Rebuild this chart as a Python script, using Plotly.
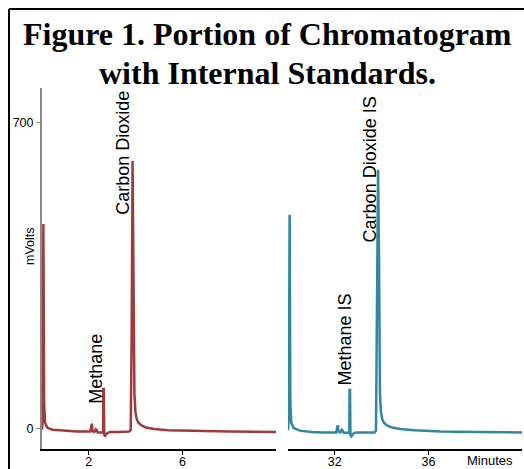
import plotly.graph_objects as go

# ---- data ----
left_t = [0.00, 0.03, 0.06, 0.09, 0.13, 0.22, 0.45, 1.00, 1.50, 2.06, 2.10, 2.13, 2.16, 2.24, 2.30, 2.34, 2.38, 2.50, 2.61, 2.62, 2.64, 2.66, 2.70, 2.78, 2.90, 3.30, 3.72, 3.79, 3.83, 3.87, 3.91, 3.95, 3.99, 4.04, 4.12, 4.25, 4.45, 4.80, 5.40, 6.50, 8.00, 10.00]
left_mv = [-2, 20, 469, 60, 14, 3, -2, -5, -6, -6, 5, 12, -5, -7, -1, -3, -8, -8, -8, 91, 91, -14, -16, -10, -7, -7, -6, -3, 200, 613, 400, 80, 40, 24, 14, 8, 3, 0, -3, -5, -6, -7]

right_t = [30.00, 30.03, 30.07, 30.10, 30.14, 30.24, 30.50, 31.00, 31.50, 32.06, 32.10, 32.13, 32.16, 32.24, 32.30, 32.34, 32.38, 32.50, 32.62, 32.63, 32.65, 32.67, 32.71, 32.79, 32.90, 33.30, 33.70, 33.76, 33.80, 33.85, 33.89, 33.93, 33.97, 34.02, 34.10, 34.23, 34.45, 34.80, 35.40, 36.50, 38.00, 40.00]
right_mv = [-3, 20, 490, 60, 14, 2, -4, -7, -8, -8, 3, 8, -6, -8, -2, -4, -9, -9, -9, 89, 89, -15, -17, -11, -8, -8, -8, -4, 200, 593, 390, 80, 40, 24, 14, 8, 3, 0, -3, -6, -7, -8]

labels_left = ["Methane", "Carbon Dioxide"]
labels_left_t = [2.30, 3.45]
labels_left_mv = [137, 631]
labels_right = ["Methane IS", "Carbon Dioxide IS"]
labels_right_t = [32.43, 33.49]
labels_right_mv = [204, 593]

left_ticks = [2, 6]
right_ticks = [32, 36]
y_ticks = [0, 700]

RED = "#9f3b3b"
TEAL = "#2f88a0"
SANS = "Liberation Sans, Arial, sans-serif"
SERIF = "Liberation Serif, Times New Roman, serif"

W, H = 524, 469
L, R, T, B = 42, 2, 88, 20
pw, ph = W - L - R, H - T - B


def px(xp):
    return (xp - L) / pw


def py(yp):
    return (H - B - yp) / ph


fig = go.Figure()
fig.add_trace(go.Scatter(x=left_t, y=left_mv, mode="lines",
                         line=dict(color=RED, width=2.5), xaxis="x", yaxis="y",
                         showlegend=False, hoverinfo="skip"))
fig.add_trace(go.Scatter(x=right_t, y=right_mv, mode="lines",
                         line=dict(color=TEAL, width=2.5), xaxis="x2", yaxis="y2",
                         showlegend=False, hoverinfo="skip"))

annotations = []
for txt, t, v in zip(labels_left, labels_left_t, labels_left_mv):
    annotations.append(dict(text=txt, x=t, y=v, xref="x", yref="y", showarrow=False,
                            textangle=-90, xanchor="center", yanchor="middle",
                            font=dict(family=SANS, size=18, color="black")))
for txt, t, v in zip(labels_right, labels_right_t, labels_right_mv):
    annotations.append(dict(text=txt, x=t, y=v, xref="x2", yref="y2", showarrow=False,
                            textangle=-90, xanchor="center", yanchor="middle",
                            font=dict(family=SANS, size=18, color="black")))

# title
annotations.append(dict(text="<b>Figure 1. Portion of Chromatogram</b>", x=px(267), y=py(34),
                        xref="paper", yref="paper", showarrow=False,
                        xanchor="center", yanchor="middle",
                        font=dict(family=SERIF, size=32, color="black")))
annotations.append(dict(text="<b>with Internal Standards.</b>", x=px(267), y=py(73),
                        xref="paper", yref="paper", showarrow=False,
                        xanchor="center", yanchor="middle",
                        font=dict(family=SERIF, size=32, color="black")))
annotations.append(dict(text="mVolts", x=px(30), y=py(246), xref="paper", yref="paper",
                        showarrow=False, textangle=-90, xanchor="center", yanchor="middle",
                        font=dict(family=SANS, size=12.5, color="black")))
annotations.append(dict(text="Minutes", x=px(490), y=py(461), xref="paper", yref="paper",
                        showarrow=False, xanchor="center", yanchor="middle",
                        font=dict(family=SANS, size=13, color="black")))

shapes = [
    dict(type="line", xref="paper", yref="paper", x0=px(9), x1=px(9), y0=py(9), y1=py(H + 5),
         line=dict(color="black", width=2)),
    dict(type="line", xref="paper", yref="paper", x0=px(9), x1=px(W + 5), y0=py(9), y1=py(9),
         line=dict(color="black", width=2)),
]

yrange = [-46, 780]
xcommon = dict(showgrid=False, zeroline=False, showline=True, linecolor="black", linewidth=1.5,
               ticks="outside", ticklen=4, tickcolor="black", automargin=False,
               ticklabelstandoff=-4,
               tickfont=dict(family=SANS, size=12.5, color="black"))

fig.update_layout(
    width=W, height=H,
    margin=dict(l=L, r=R, t=T, b=B, autoexpand=False),
    paper_bgcolor="white", plot_bgcolor="white",
    xaxis=dict(domain=[0, 234 / pw], range=[0, 10], tickvals=left_ticks, anchor="y", **xcommon),
    xaxis2=dict(domain=[246 / pw, 1], range=[30, 40], tickvals=right_ticks, anchor="y2", **xcommon),
    yaxis=dict(range=yrange, tickvals=y_ticks, showgrid=False, zeroline=False, showline=True,
               linecolor="#888888", linewidth=2, ticks="outside", ticklen=4, tickcolor="#888888",
               automargin=False,
               tickfont=dict(family=SANS, size=12.5, color="black"), anchor="x"),
    yaxis2=dict(range=yrange, showgrid=False, zeroline=False, showline=False,
                showticklabels=False, ticks="", anchor="x2", automargin=False),
    annotations=annotations,
    shapes=shapes,
)

fig.write_html("out.html")
